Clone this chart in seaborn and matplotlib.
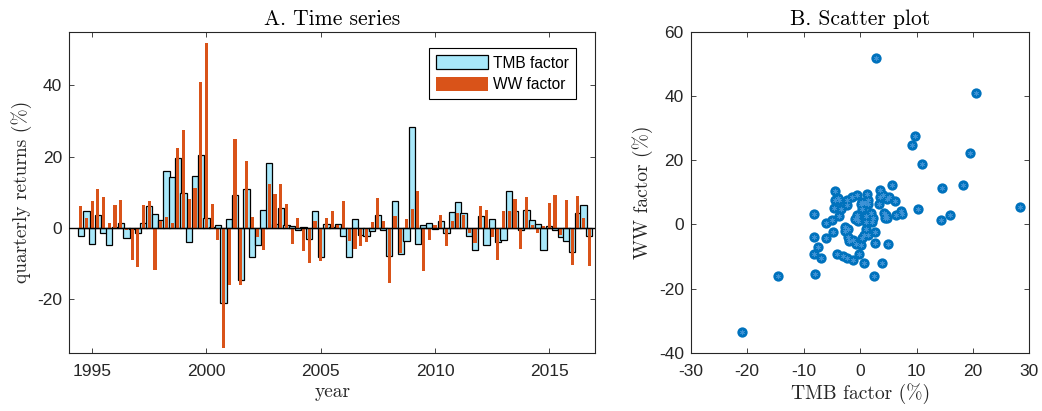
import numpy as np
import pandas as pd
import matplotlib
matplotlib.use("Agg")
import matplotlib.pyplot as plt
import seaborn as sns
from matplotlib.patches import Patch

# ---------------- data ----------------
quarters = np.arange(1994.5, 2016.76, 0.25)

tmb = [-2.3, 4.6, -4.5, 3.5, -1.5, -4.9, 0.2, 1.4, -2.7, -0.2, -1.3, 1.4, 6.2, 3.8,
       2.3, 15.9, 14.3, 19.5, 9.8, -3.9, 14.5, 20.5, 2.8, 0.3, 0.7, -21.0, 2.5, 9.2,
       -14.5, 11.0, -8.1, -4.8, 4.9, 18.3, 1.2, 5.7, 0.9, 0.4, -0.5, 0.2, -3.0, 4.8,
       -8.2, 1.0, 0.3, 1.0, -2.4, -8.2, 2.6, -1.9, -2.2, -0.9, 3.6, -0.5, -8.0, 7.4,
       -7.4, -3.7, 28.3, -4.4, 0.7, 1.4, -0.3, 1.9, -1.3, 4.5, 7.2, 4.2, -2.2, -6.1,
       3.3, -4.7, 2.6, -4.0, -3.3, 10.3, 4.8, -0.7, 5.1, 2.1, 1.0, -6.1, 0.4, -0.5,
       -2.6, -3.7, -6.9, 4.1, 6.3, -2.3]

ww = [6.1, 2.8, 7.6, 10.8, 8.6, 1.4, 6.3, 7.7, -0.7, -9.1, -11.0, 6.4, 7.4, -11.9,
      2.0, 3.0, 1.3, 22.3, 27.4, 8.2, 11.2, 40.8, 51.7, 6.7, -3.3, -33.6, -16.0, 24.8,
      -16.0, 18.8, 3.1, -2.5, -6.2, 12.4, 9.5, 12.2, 6.6, -4.4, 2.9, -6.5, -9.8, 1.9,
      -9.3, 2.7, 4.7, 0.7, 7.6, -3.8, -5.8, -5.1, -3.9, 1.6, 8.4, 1.9, -15.5, 3.2,
      -7.1, 2.6, 5.3, 10.3, -12.1, -3.3, 0.9, 3.5, -5.0, 1.9, 4.3, 3.5, -1.4, -4.2,
      6.2, 5.1, -2.5, -9.1, 4.8, 4.8, 8.0, -6.0, 8.6, 0.8, -1.5, 0.5, 7.1, 9.1,
      -2.1, 7.7, -10.5, 9.0, 2.8, -10.6]

year_ticks = [1995, 2000, 2005, 2010, 2015]
ts_yticks = [-20, 0, 20, 40]
sc_xticks = [-30, -20, -10, 0, 10, 20, 30]
sc_yticks = [-40, -20, 0, 20, 40, 60]

df = pd.DataFrame({"quarter": quarters[:len(tmb)], "TMB": tmb, "WW": ww})

# ---------------- style ----------------
AXC = "#262626"
TMB_C = "#A8E8FA"
WW_C = "#D95319"
DOT_C = "#0072BD"
SERIF = "cmr10"
SANS = ["Liberation Sans", "DejaVu Sans"]

plt.rcParams.update({
    "font.family": SANS,
    "axes.unicode_minus": False,
    "axes.edgecolor": AXC,
    "axes.linewidth": 0.8,
    "xtick.color": AXC,
    "ytick.color": AXC,
    "xtick.direction": "in",
    "ytick.direction": "in",
    "xtick.major.size": 3.6,
    "ytick.major.size": 3.6,
    "xtick.major.width": 0.6,
    "ytick.major.width": 0.6,
    "xtick.top": True,
    "ytick.right": True,
    "xtick.labelsize": 12.5,
    "ytick.labelsize": 12.5,
})

fig = plt.figure(figsize=(10.42, 4.11), dpi=100)
ax1 = fig.add_axes([0.0665, 0.1418, 0.5045, 0.781])
ax2 = fig.add_axes([0.6629, 0.1418, 0.325, 0.781])

# ---------------- A. time series ----------------
sns.barplot(data=df, x="quarter", y="TMB", native_scale=True, width=1.1,
            color=TMB_C, saturation=1, edgecolor="black", linewidth=0.9,
            errorbar=None, ax=ax1)
sns.barplot(data=df, x="quarter", y="WW", native_scale=True, width=0.55,
            color=WW_C, saturation=1, linewidth=0, errorbar=None, ax=ax1)
ax1.axhline(0, color="black", lw=1.0, zorder=5)
ax1.set_xlim(1994, 2017)
ax1.set_ylim(-35, 55)
ax1.set_xticks(year_ticks)
ax1.set_xticklabels([str(y) for y in year_ticks])
ax1.set_yticks(ts_yticks)
ax1.set_yticklabels([str(v) for v in ts_yticks])
ax1.tick_params(axis="x", pad=8)
ax1.tick_params(axis="y", pad=5)
ax1.set_xlabel("year", family=SERIF, fontsize=14, color=AXC, labelpad=3)
ax1.set_ylabel("quarterly returns (%)", family=SERIF, fontsize=14, color=AXC, labelpad=4)
ax1.set_title("A. Time series", family=SERIF, fontsize=15.5, color="black", pad=5)

handles = [Patch(facecolor=TMB_C, edgecolor="black", linewidth=0.9, label="TMB factor"),
           Patch(facecolor=WW_C, edgecolor="none", label="WW factor")]
leg = ax1.legend(handles=handles, loc="upper right", bbox_to_anchor=(0.964, 0.948),
                 borderaxespad=0, fontsize=11.2, handlelength=3.3, handleheight=1.0,
                 handletextpad=0.35, labelspacing=0.4, borderpad=0.45,
                 fancybox=False, framealpha=1, edgecolor="black")
leg.get_frame().set_linewidth(0.8)

# ---------------- B. scatter ----------------
sns.scatterplot(x=tmb, y=ww, s=55, color=DOT_C, edgecolor=DOT_C, linewidth=0, ax=ax2, zorder=3)
ax2.scatter(tmb, ww, marker=(6, 2, 0), s=12, color="#3f93d6", linewidths=0.4, zorder=4)
ax2.set_xlim(-30, 30)
ax2.set_ylim(-40, 60)
ax2.set_xticks(sc_xticks)
ax2.set_xticklabels([str(v) for v in sc_xticks])
ax2.set_yticks(sc_yticks)
ax2.set_yticklabels([str(v) for v in sc_yticks])
ax2.tick_params(axis="x", pad=8)
ax2.tick_params(axis="y", pad=5)
ax2.set_xlabel("TMB factor (%)", family=SERIF, fontsize=14, color=AXC, labelpad=3)
ax2.set_ylabel("WW factor (%)", family=SERIF, fontsize=14, color=AXC, labelpad=4)
ax2.set_title("B. Scatter plot", family=SERIF, fontsize=15.5, color="black", pad=5)

for ax in (ax1, ax2):
    for sp in ax.spines.values():
        sp.set_visible(True)
        sp.set_color(AXC)

fig.savefig("out.png", dpi=100)
